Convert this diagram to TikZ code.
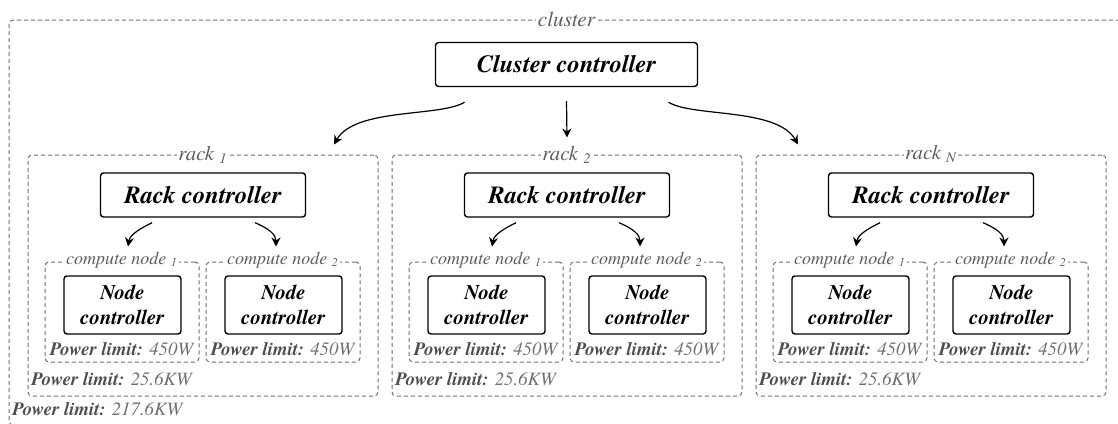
\documentclass[tikz,border=0pt]{standalone}
\usepackage{fontspec}
\setmainfont{TeX Gyre Termes}
\usetikzlibrary{calc,arrows.meta}

\definecolor{framegray}{HTML}{6E6E6E}
\definecolor{labelgray}{HTML}{5E5E5E}
\definecolor{keygray}{HTML}{4E4E4E}
\definecolor{valgray}{HTML}{6E6E6E}

\tikzset{
  frame/.style={draw=framegray, line width=0.5pt, dash pattern=on 2pt off 1.5pt,
                rounded corners=2pt, inner sep=0pt},
  ctrl/.style={draw=black, line width=0.7pt, rounded corners=1.5pt, align=center,
               inner sep=0pt, font=\bfseries\itshape},
  tag/.style={fill=white, inner sep=0.8pt, text=labelgray, font=\itshape},
  limit/.style={anchor=base west, inner sep=0pt, text=keygray,
                font=\itshape\fontsize{9.4}{10}\selectfont},
  flow/.style={-{Stealth[length=4.5pt,width=4.5pt]}, line width=0.6pt},
}

\newcommand{\plimit}[1]{{\bfseries Power limit:} {\color{valgray}#1}}

\begin{document}
\begin{tikzpicture}[x=0.5pt,y=-0.5pt]
\useasboundingbox (0,0) rectangle (1118,423);
\clip (0,0) rectangle (1118,423);

% cluster frame
\node[frame, minimum width=557.5pt, minimum height=202.5pt] (cl) at (566.5,222.5) {};
\node[tag, font=\itshape\fontsize{10.6}{12}\selectfont] (cltag) at (cl.north) {cluster};
\node[limit] (clpow) at (12,415) {\plimit{217.6KW}};

% cluster controller
\node[ctrl, minimum width=131pt, minimum height=22pt,
      font=\bfseries\itshape\fontsize{12.3}{14}\selectfont] (cc) at (566.5,64.5) {Cluster controller};

% racks
\foreach \i/\r in {0/1,1/2,2/N} {
  \begin{scope}[xshift=\i*182pt]
    \node[frame, minimum width=175pt, minimum height=120.5pt] (rk\r) at (203,275.5) {};
    \node[tag, font=\itshape\fontsize{10.4}{12}\selectfont] (rt\r) at (rk\r.north) {rack \textsubscript{\r}};
    \node[ctrl, minimum width=102.5pt, minimum height=22pt,
          font=\bfseries\itshape\fontsize{12.3}{14}\selectfont] (rc\r) at (203,195) {Rack controller};
    \node[limit] (rp\r) at (31,385) {\plimit{25.6KW}};

    % compute nodes
    \foreach \j/\dx in {1/-81,2/80} {
      \node[frame, minimum width=77pt, minimum height=50pt] (cn\r\j) at (203+\dx,312) {};
      \node[tag, font=\itshape\fontsize{9}{10}\selectfont] (ct\r\j) at ($(cn\r\j.north)+(0,-1)$) {compute node \textsubscript{\j}};
      \node[ctrl, minimum width=58.5pt, minimum height=29pt,
            font=\bfseries\itshape\fontsize{10.4}{12.5}\selectfont] (nc\r\j) at (203.5+\dx,305) {Node\\controller};
      \node[limit] (np\r\j) at ($(cn\r\j.west)+(5,43)$) {\plimit{450W}};
    }

    % rack controller to compute nodes
    \coordinate (ra\r) at ($(rc\r.south)+(-51,5)$);
    \coordinate (rb\r) at ($(cn\r1.north)+(6,-15)$);
    \coordinate (rc\r a) at ($(rc\r.south)+(52,5)$);
    \coordinate (rc\r b) at ($(cn\r2.north)+(-7,-15)$);
    \draw[flow] (ra\r) .. controls +(-12,6) and +(2,-12) .. (rb\r);
    \draw[flow] (rc\r a) .. controls +(14,6) and +(0,-12) .. (rc\r b);
  \end{scope}
}

% cluster controller to racks
\coordinate (ca) at ($(cc.south)+(-102,15)$);
\coordinate (cb) at ($(rk1.north)+(131,-10)$);
\coordinate (cm) at ($(cc.south)+(0,14)$);
\coordinate (cn) at ($(rk2.north)+(0,-17)$);
\coordinate (cr) at ($(cc.south)+(102,15)$);
\coordinate (cs) at ($(rkN.north)+(-133,-10)$);
\draw[flow] (ca) .. controls +(-24,15) and +(21,-37) .. (cb);
\draw[flow] (cm) -- (cn);
\draw[flow] (cr) .. controls +(24,15) and +(-21,-37) .. (cs);
\end{tikzpicture}
\end{document}
